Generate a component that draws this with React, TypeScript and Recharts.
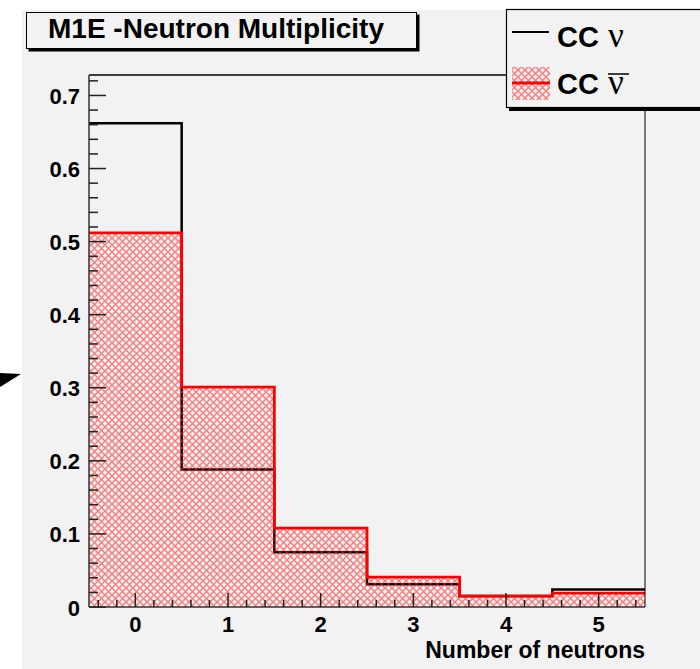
import { ComposedChart, Line, Area, XAxis, YAxis } from "recharts";

const bins = [0, 1, 2, 3, 4, 5];
const ccNu = [0.662, 0.188, 0.075, 0.031, 0.015, 0.024];
const ccNuBar = [0.512, 0.301, 0.108, 0.041, 0.015, 0.019];
const yTickLabels = [0, 0.1, 0.2, 0.3, 0.4, 0.5, 0.6, 0.7];
const xTickLabels = [0, 1, 2, 3, 4, 5];
const chartTitle = "M1E -Neutron Multiplicity";
const xTitle = "Number of neutrons";

// each bin spans centre +- 0.5; the last value is repeated so the step closes at the right edge
const data = bins.map((b, i) => ({ edge: b - 0.5, nu: ccNu[i], nubar: ccNuBar[i] }));
data.push({
  edge: bins[bins.length - 1] + 0.5,
  nu: ccNu[ccNu.length - 1],
  nubar: ccNuBar[ccNuBar.length - 1],
});

// ROOT style minor ticks: 0.02 on y, 0.2 on x
const yTicks = Array.from({ length: 37 }, (_, i) => (i * 2) / 100);
const xTicks = Array.from({ length: 30 }, (_, i) => Math.round((-0.4 + i * 0.2) * 10) / 10);

const FONT = "'Liberation Sans', Arial, Helvetica, sans-serif";
const SERIF = "'Liberation Serif', 'Times New Roman', serif";
const isIn = (arr: number[], v: number) => arr.some((t) => Math.abs(t - v) < 1e-6);

function YTick({ x, y, payload }: any) {
  const v = payload.value;
  const major = isIn(yTickLabels, v);
  return (
    <g>
      <line x1={x} x2={x + (major ? 17 : 9)} y1={y} y2={y} stroke="#222" strokeWidth={1.5} />
      {major && (
        <text x={x - 9} y={y + 8.5} textAnchor="end" fontSize={22} fontWeight="bold" fontFamily={FONT} fill="#000">
          {v === 0 ? "0" : v.toFixed(1)}
        </text>
      )}
    </g>
  );
}

function XTick({ x, y, payload }: any) {
  const v = payload.value;
  const major = isIn(xTickLabels, v);
  return (
    <g>
      <line x1={x} x2={x} y1={y} y2={y - (major ? 14 : 7)} stroke="#222" strokeWidth={1.5} />
      {major && (
        <text x={x} y={y + 25} textAnchor="middle" fontSize={22} fontWeight="bold" fontFamily={FONT} fill="#000">
          {v}
        </text>
      )}
    </g>
  );
}

function Hatch({ id }: { id: string }) {
  return (
    <pattern id={id} width="7" height="7" patternUnits="userSpaceOnUse">
      <path d="M0,0 L7,7 M7,0 L0,7" stroke="#ff2020" strokeWidth={1.5} strokeOpacity={0.55} />
    </pattern>
  );
}

export default function App() {
  return (
    <div style={{ position: "absolute", left: 0, top: 0, width: 700, height: 669, overflow: "hidden", background: "#fff" }}>
      <div style={{ position: "absolute", left: 22, top: 10, width: 678, height: 659, background: "#f2f2f2" }} />
      <div style={{ position: "absolute", left: 0, top: 0 }}>
        <ComposedChart width={700} height={669} data={data} margin={{ top: 74, right: 54, bottom: 61, left: 88 }}>
          <defs>
            <Hatch id="hatch" />
          </defs>
          <XAxis
            dataKey="edge"
            type="number"
            domain={[-0.5, 5.5]}
            allowDataOverflow
            ticks={xTicks}
            interval={0}
            height={1}
            tickSize={0}
            tickMargin={0}
            tick={<XTick />}
            tickLine={false}
            axisLine={{ stroke: "#333", strokeWidth: 1.5 }}
          />
          <XAxis
            xAxisId="top"
            orientation="top"
            type="number"
            domain={[-0.5, 5.5]}
            height={1}
            tick={false}
            tickLine={false}
            axisLine={{ stroke: "#000", strokeWidth: 1.5 }}
          />
          <YAxis
            type="number"
            domain={[0, 0.728]}
            allowDataOverflow
            ticks={yTicks}
            interval={0}
            width={1}
            tickSize={0}
            tickMargin={0}
            tick={<YTick />}
            tickLine={false}
            axisLine={{ stroke: "#333", strokeWidth: 1.5 }}
          />
          <YAxis
            yAxisId="right"
            orientation="right"
            width={1}
            tick={false}
            tickLine={false}
            axisLine={{ stroke: "#000", strokeWidth: 1 }}
          />
          <Line
            dataKey="nu"
            type="stepAfter"
            stroke="#000"
            strokeWidth={2.5}
            dot={false}
            activeDot={false}
            isAnimationActive={false}
            zIndex={350}
          />
          <Area
            dataKey="nubar"
            type="stepAfter"
            stroke="#ff0000"
            strokeWidth={2.8}
            fill="url(#hatch)"
            fillOpacity={1}
            baseValue={0}
            dot={false}
            activeDot={false}
            isAnimationActive={false}
            zIndex={450}
          />
        </ComposedChart>
      </div>
      <svg width={700} height={669} style={{ position: "absolute", left: 0, top: 0, pointerEvents: "none" }}>
        <defs>
          <Hatch id="hatchLegend" />
        </defs>
        {/* stray arrow head from the slide */}
        <polygon points="0,373 21,374 0,387" fill="#000" />
        {/* title box */}
        <rect x={28.5} y={14.5} width={391} height={37} fill="#000" />
        <rect x={26.5} y={12.5} width={390} height={36} fill="#f2f2f2" stroke="#000" strokeWidth={1} />
        <text x={48} y={38} fontSize={28} fontWeight="bold" fontFamily={FONT} fill="#000">
          {chartTitle}
        </text>
        {/* legend box */}
        <rect x={509} y={12} width={200} height={99} fill="#000" />
        <rect x={506.5} y={9.5} width={200} height={98} fill="#f2f2f2" stroke="#000" strokeWidth={1.2} />
        <line x1={512} x2={549} y1={32} y2={32} stroke="#000" strokeWidth={2} />
        <text x={557} y={47} fontSize={29} fontWeight="bold" fontFamily={FONT} fill="#000">
          CC
        </text>
        <text x={608} y={47} fontSize={35} fontFamily={SERIF} fill="#000">
          ν
        </text>
        <rect x={512} y={67} width={38} height={33} fill="url(#hatchLegend)" />
        <line x1={512} x2={550} y1={83} y2={83} stroke="#ff0000" strokeWidth={3} />
        <text x={557} y={94} fontSize={29} fontWeight="bold" fontFamily={FONT} fill="#000">
          CC
        </text>
        <text x={608} y={94} fontSize={35} fontFamily={SERIF} fill="#000">
          ν
        </text>
        <line x1={608} x2={629} y1={74} y2={74} stroke="#000" strokeWidth={1.5} />
        {/* x axis title */}
        <text x={645} y={658} textAnchor="end" fontSize={23} fontWeight="bold" fontFamily={FONT} fill="#000">
          {xTitle}
        </text>
      </svg>
    </div>
  );
}
